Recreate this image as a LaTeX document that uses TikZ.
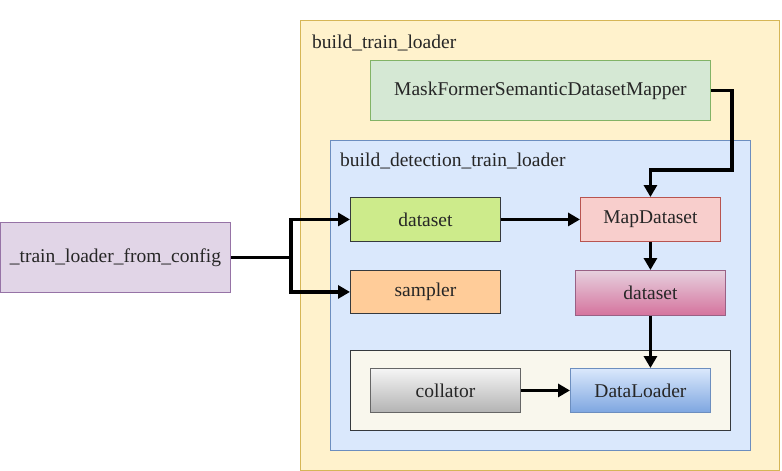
\documentclass[tikz,border=0pt]{standalone}
\usepackage{fontspec}
\setmainfont{Liberation Serif}
\usetikzlibrary{arrows.meta,positioning}
\definecolor{ylwF}{HTML}{FFF2CC}\definecolor{ylwD}{HTML}{D6B656}
\definecolor{grnF}{HTML}{D5E8D4}\definecolor{grnD}{HTML}{82B366}
\definecolor{bluF}{HTML}{DAE8FC}\definecolor{bluD}{HTML}{6C8EBF}
\definecolor{limF}{HTML}{CDEB8B}\definecolor{drkD}{HTML}{36393D}
\definecolor{orgF}{HTML}{FFCC99}
\definecolor{redF}{HTML}{F8CECC}\definecolor{redD}{HTML}{B85450}
\definecolor{pnkT}{HTML}{E6D0DE}\definecolor{pnkB}{HTML}{D5739D}\definecolor{pnkD}{HTML}{996185}
\definecolor{begF}{HTML}{F9F7ED}
\definecolor{gryT}{HTML}{F5F5F5}\definecolor{gryB}{HTML}{B3B3B3}\definecolor{gryD}{HTML}{666666}
\definecolor{dlT}{HTML}{DAE8FC}\definecolor{dlB}{HTML}{7EA6E0}
\definecolor{purF}{HTML}{E1D5E7}\definecolor{purD}{HTML}{9673A6}
\begin{document}
\begin{tikzpicture}[x=1pt,y=-1pt,
  box/.style={draw,line width=0.9pt,inner sep=0pt,font=\rmfamily\fontsize{19.5}{22}\selectfont,text=black!85},
  conn/.style={line width=3.2pt,line join=miter,-{Triangle[length=12pt,width=13pt]}},
  lbl/.style={anchor=west,inner sep=0pt,font=\rmfamily\fontsize{19.5}{22}\selectfont,text=black!85}]
\useasboundingbox (0,0) rectangle (782,471);
% containers
\node[box,fill=ylwF,draw=ylwD,minimum width=479pt,minimum height=450pt,anchor=north west] (outer) at (300,20) {};
\node[lbl] (outerlbl) at (312,43) {build\_train\_loader};
\node[box,fill=grnF,draw=grnD,minimum width=340pt,minimum height=60pt,anchor=north west] (mapper) at (370,60) {MaskFormerSemanticDatasetMapper};
\node[box,fill=bluF,draw=bluD,minimum width=420pt,minimum height=310pt,anchor=north west] (inner) at (330,140) {};
\node[lbl] (innerlbl) at (340,161) {build\_detection\_train\_loader};
\node[box,fill=begF,draw=drkD,minimum width=380pt,minimum height=80pt,anchor=north west] (dlgroup) at (350,350) {};
% nodes
\node[box,fill=limF,draw=drkD,minimum width=150pt,minimum height=44pt,anchor=north west] (ds) at (350,197) {dataset};
\node[box,fill=orgF,draw=drkD,minimum width=150pt,minimum height=43pt,anchor=north west] (sampler) at (350,270) {sampler};
\node[box,fill=redF,draw=redD,minimum width=140pt,minimum height=44pt,anchor=north west] (mapds) at (580,197) {MapDataset};
\node[box,top color=pnkT,bottom color=pnkB,draw=pnkD,minimum width=150pt,minimum height=45pt,anchor=north west] (ds2) at (575,270) {dataset};
\node[box,top color=gryT,bottom color=gryB,draw=gryD,minimum width=150pt,minimum height=44pt,anchor=north west] (coll) at (370,368) {collator};
\node[box,top color=dlT,bottom color=dlB,draw=bluD,minimum width=140pt,minimum height=44pt,anchor=north west] (dl) at (570,368) {DataLoader};
\node[box,fill=purF,draw=purD,minimum width=230pt,minimum height=70pt,anchor=north west] (cfg) at (0,222) {\_train\_loader\_from\_config};
% connectors
\coordinate (split) at ([xshift=60pt]cfg.east);
\draw[conn] (cfg.east) -- (split) |- (ds.west);
\draw[conn] (split) |- (sampler.west);
\draw[conn] (ds.east) -- (mapds.west);
\draw[conn] (mapper.east) -| (732,170) -| (mapds.north);
\draw[conn] (mapds.south) -- (mapds.south |- ds2.north);
\draw[conn] (ds2.south) -- (ds2.south |- dl.north);
\draw[conn] (coll.east) -- (dl.west);
\end{tikzpicture}
\end{document}
